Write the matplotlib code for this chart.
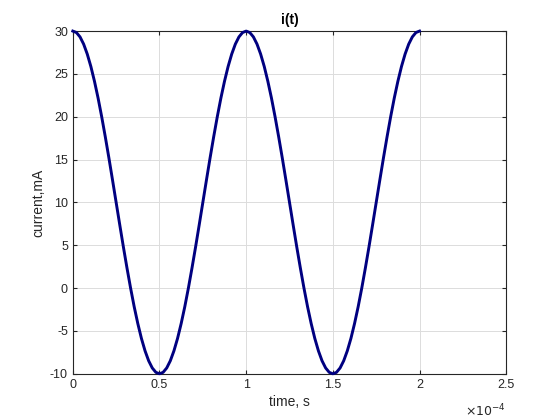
# i(t) current waveform, MATLAB look

import matplotlib.pyplot as plt

plt.rcParams['font.family'] = ['Liberation Sans', 'DejaVu Sans']
plt.rcParams['axes.unicode_minus'] = False

# time samples, s (step 1/48 of the period)
t_step = 1e-4 / 48
time_s = [k * t_step for k in range(97)]

# current samples, mA: half period going down, then back up
half_down = [30, 29.83, 29.32, 28.48, 27.32, 25.87, 24.14, 22.18, 20, 17.65, 15.18,
             12.61, 10, 7.39, 4.82, 2.35, 0, -2.18, -4.14, -5.87, -7.32, -8.48,
             -9.32, -9.83, -10]
one_period = half_down + half_down[-2:0:-1]
current_ma = one_period + one_period + [30]

x_ticks = [0, 0.5e-4, 1e-4, 1.5e-4, 2e-4, 2.5e-4]
x_tick_labels = ['0', '0.5', '1', '1.5', '2', '2.5']
y_ticks = [-10, -5, 0, 5, 10, 15, 20, 25, 30]

fig = plt.figure(figsize=(5.6, 4.2), dpi=100)
ax = fig.add_axes([0.130, 0.110, 0.774, 0.816])

ax.plot(time_s, current_ma, color='#000080', linewidth=2.1, clip_on=False, zorder=3)

ax.set_xlim(0, 2.5e-4)
ax.set_ylim(-10, 30)
ax.set_xticks(x_ticks)
ax.set_xticklabels(x_tick_labels)
ax.set_yticks(y_ticks)

# exponent label like MATLAB
ax.text(1.0, -0.085, r'$\times10^{-4}$', transform=ax.transAxes, ha='right', va='top',
        fontsize=9, color='#262626')

ax.grid(True, color='#dcdcdc', linewidth=0.7)
ax.set_axisbelow(True)
ax.tick_params(direction='in', length=3, labelsize=9, colors='#262626',
               top=True, right=True, labeltop=False, labelright=False)
for s in ax.spines.values():
    s.set_color('#262626')
    s.set_linewidth(0.8)

ax.set_title('i(t)', fontsize=10, fontweight='bold', color='black', pad=5)
ax.set_xlabel('time, s', fontsize=10, color='#262626', labelpad=3)
ax.set_ylabel('current,mA', fontsize=10, color='#262626', labelpad=3)

fig.savefig('out.png', dpi=100)
